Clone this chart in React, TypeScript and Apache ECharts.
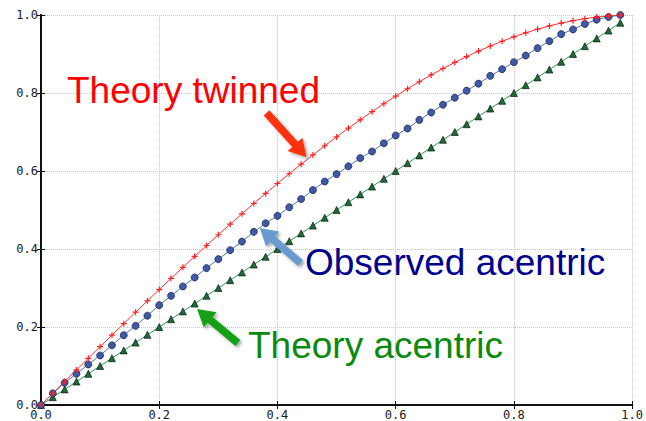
import React, { useEffect, useRef } from "react";
import * as echarts from "echarts";

const xValues = [
  0, 0.02, 0.04, 0.06, 0.08, 0.1, 0.12, 0.14, 0.16, 0.18, 0.2, 0.22, 0.24, 0.26, 0.28, 0.3, 0.32, 0.34, 0.36, 0.38,
  0.4, 0.42, 0.44, 0.46, 0.48, 0.5, 0.52, 0.54, 0.56, 0.58, 0.6, 0.62, 0.64, 0.66, 0.68, 0.7, 0.72, 0.74, 0.76, 0.78,
  0.8, 0.82, 0.84, 0.86, 0.88, 0.9, 0.92, 0.94, 0.96, 0.98,
];

const theoryTwinned = [
  0, 0.03, 0.06, 0.0899, 0.1197, 0.1495, 0.1791, 0.2086, 0.238, 0.2671, 0.296, 0.3247, 0.3531, 0.3812, 0.409, 0.4365,
  0.4636, 0.4903, 0.5167, 0.5426, 0.568, 0.593, 0.6174, 0.6413, 0.6647, 0.6875, 0.7097, 0.7313, 0.7522, 0.7724, 0.792,
  0.8108, 0.8289, 0.8463, 0.8628, 0.8785, 0.8934, 0.9074, 0.9205, 0.9327, 0.944, 0.9543, 0.9636, 0.972, 0.9793, 0.9855,
  0.9907, 0.9947, 0.9976, 0.9994,
];

const observedAcentric = [
  0, 0.03, 0.057, 0.08, 0.104, 0.127, 0.153, 0.179, 0.203, 0.229, 0.256, 0.28, 0.304, 0.327, 0.351, 0.374, 0.397, 0.419,
  0.444, 0.466, 0.485, 0.507, 0.528, 0.551, 0.573, 0.592, 0.612, 0.633, 0.65, 0.671, 0.691, 0.709, 0.731, 0.75, 0.77,
  0.788, 0.806, 0.824, 0.844, 0.861, 0.879, 0.896, 0.915, 0.933, 0.951, 0.963, 0.977, 0.988, 0.995, 1.0,
];

const theoryAcentric = [
  0, 0.02, 0.04, 0.06, 0.08, 0.1, 0.12, 0.14, 0.16, 0.18, 0.2, 0.22, 0.24, 0.26, 0.28, 0.3, 0.32, 0.34, 0.36, 0.38,
  0.4, 0.42, 0.44, 0.46, 0.48, 0.5, 0.52, 0.54, 0.56, 0.58, 0.6, 0.62, 0.64, 0.66, 0.68, 0.7, 0.72, 0.74, 0.76, 0.78,
  0.8, 0.82, 0.84, 0.86, 0.88, 0.9, 0.92, 0.94, 0.96, 0.98,
];

const labels = [
  { text: "Theory twinned", color: "#ff0000", tail: [0.3815, 0.749], tip: [0.449, 0.636], arrow: "#ff3311", textPos: [67, 90.5] },
  { text: "Observed acentric", color: "#000090", tail: [0.439, 0.364], tip: [0.37, 0.454], arrow: "#6a9bd0", textPos: [305, 262.5] },
  { text: "Theory acentric", color: "#0a8a0a", tail: [0.333, 0.159], tip: [0.264, 0.246], arrow: "#14a014", textPos: [248, 345.5] },
];

const pair = (ys: number[]) => xValues.map((x, i) => [x, ys[i]]);

function arrowPoints(t: number[], p: number[]) {
  const dx = p[0] - t[0];
  const dy = p[1] - t[1];
  const len = Math.sqrt(dx * dx + dy * dy);
  const ux = dx / len, uy = dy / len;
  const nx = -uy, ny = ux;
  const w = 3.8, hw = 10, hl = 17;
  const bx = p[0] - ux * hl, by = p[1] - uy * hl;
  return [
    [t[0] + nx * w, t[1] + ny * w],
    [bx + nx * w, by + ny * w],
    [bx + nx * hw, by + ny * hw],
    [p[0], p[1]],
    [bx - nx * hw, by - ny * hw],
    [bx - nx * w, by - ny * w],
    [t[0] - nx * w, t[1] - ny * w],
  ];
}

export default function App() {
  const ref = useRef<HTMLDivElement>(null);
  useEffect(() => {
    document.body.style.margin = "0";
    document.body.style.overflow = "hidden";
    const chart = echarts.init(ref.current!, undefined, { renderer: "svg", width: 646, height: 421 });
    const monoLabel = {
      fontFamily: "DejaVu Sans Mono",
      fontSize: 12,
      color: "#1a1a1a",
      formatter: (v: number) => v.toFixed(1),
    };
    const axisLine = { show: true, lineStyle: { color: "#111", width: 2 } };
    const tick = { show: true, inside: true, length: 4, lineStyle: { color: "#111", width: 1 } };
    const split = { show: true, lineStyle: { color: "#c8c8c8", type: "dotted" as const, width: 1 } };
    chart.setOption({
      animation: false,
      backgroundColor: "#fff",
      grid: { left: 41, right: 10, top: 15, bottom: 16, containLabel: false },
      xAxis: [
        { type: "value", min: 0, max: 1, interval: 0.2, position: "bottom", axisLine, axisTick: tick, splitLine: split, axisLabel: { ...monoLabel, margin: 4 } },
        { type: "value", min: 0, max: 1, interval: 0.2, position: "top", axisLine, axisTick: tick, splitLine: { show: false }, axisLabel: { show: false } },
      ],
      yAxis: [
        { type: "value", min: 0, max: 1, interval: 0.2, position: "left", axisLine, axisTick: tick, splitLine: split, axisLabel: { ...monoLabel, margin: 3 } },
        { type: "value", min: 0, max: 1, interval: 0.2, position: "right", axisLine, axisTick: tick, splitLine: { show: false }, axisLabel: { show: false } },
      ],
      series: [
        {
          type: "line", name: "Theory acentric", data: pair(theoryAcentric), xAxisIndex: 0, yAxisIndex: 0,
          symbol: "triangle", symbolSize: 7, showAllSymbol: true,
          lineStyle: { color: "#2c9a4c", width: 1 },
          itemStyle: { color: "#1e6b3a", borderColor: "#000", borderWidth: 0.6 },
        },
        {
          type: "line", name: "Observed acentric", data: pair(observedAcentric), xAxisIndex: 0, yAxisIndex: 0,
          symbol: "circle", symbolSize: 7, showAllSymbol: true,
          lineStyle: { color: "#5070c0", width: 1 },
          itemStyle: { color: "#3c5aa8", borderColor: "#1a1a40", borderWidth: 0.7 },
        },
        {
          type: "line", name: "Theory twinned", data: pair(theoryTwinned), xAxisIndex: 0, yAxisIndex: 0,
          symbol: "path://M5,0L5,10M0,5L10,5", symbolSize: 6, showAllSymbol: true,
          lineStyle: { color: "#ff3030", width: 1 },
          itemStyle: { color: "none", borderColor: "#ff2020", borderWidth: 1.2 },
        },
      ],
    });
    const graphics: any[] = [];
    labels.forEach((l) => {
      const t = chart.convertToPixel({ gridIndex: 0 }, l.tail) as number[];
      const p = chart.convertToPixel({ gridIndex: 0 }, l.tip) as number[];
      graphics.push({
        type: "polygon",
        shape: { points: arrowPoints(t, p) },
        style: { fill: l.arrow, shadowBlur: 3, shadowColor: "rgba(0,0,0,0.35)", shadowOffsetX: 2, shadowOffsetY: 2 },
        z: 10,
      });
      graphics.push({
        type: "text",
        x: l.textPos[0],
        y: l.textPos[1],
        style: {
          text: l.text,
          fill: l.color,
          font: '37px "Liberation Sans", Arial, sans-serif',
          textAlign: "left",
          textVerticalAlign: "middle",
        },
        z: 10,
      });
    });
    chart.setOption({ graphic: graphics });
    return () => chart.dispose();
  }, []);
  return <div ref={ref} style={{ position: "absolute", left: 0, top: 0, width: 646, height: 421 }} />;
}
